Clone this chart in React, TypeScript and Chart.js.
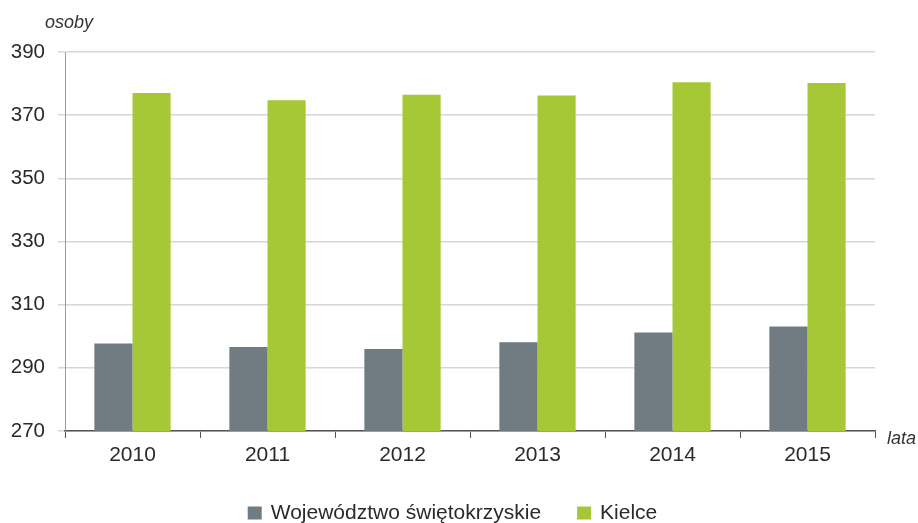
import React, { useEffect, useRef } from "react";
import { Chart, registerables } from "chart.js";

Chart.register(...registerables);

const categories = ["2010", "2011", "2012", "2013", "2014", "2015"];
const wojewodztwo = [297.7, 296.6, 296.0, 298.1, 301.2, 303.1];
const kielce = [377.0, 374.7, 376.5, 376.2, 380.4, 380.2];
const seriesLabels = ["Województwo świętokrzyskie", "Kielce"];
const yTitle = "osoby";
const xTitle = "lata";

const FONT = "'Liberation Sans', Arial, sans-serif";

const titlesAndLegend = {
  id: "titlesAndLegend",
  afterDraw(chart: any) {
    const ctx = chart.ctx;
    ctx.save();
    ctx.fillStyle = "#333333";
    ctx.font = `italic 18px ${FONT}`;
    ctx.textBaseline = "alphabetic";
    ctx.textAlign = "left";
    ctx.fillText(yTitle, 45, 28);
    ctx.fillText(xTitle, chart.chartArea.right + 12, chart.chartArea.bottom + 13);

    // legend
    ctx.font = `21px ${FONT}`;
    const box = 14;
    const gap = 9;
    const itemGap = 36;
    const ds = chart.data.datasets;
    const widths = ds.map((d: any) => box + gap + ctx.measureText(d.label).width);
    const total = widths.reduce((a: number, b: number) => a + b, 0) + itemGap * (ds.length - 1);
    let x = 452.5 - total / 2;
    const baseline = 519;
    ds.forEach((d: any, i: number) => {
      ctx.fillStyle = d.backgroundColor;
      ctx.fillRect(x, 506.5, box, 13);
      ctx.fillStyle = "#2a2a2a";
      ctx.fillText(d.label, x + box + gap, baseline);
      x += widths[i] + itemGap;
    });
    ctx.restore();
  },
};

export default function App() {
  const ref = useRef<HTMLCanvasElement>(null);
  useEffect(() => {
    if (!ref.current) return;
    const chart = new Chart(ref.current, {
      type: "bar",
      data: {
        labels: categories,
        datasets: [
          {
            label: seriesLabels[0],
            data: wojewodztwo,
            backgroundColor: "#707c82",
            categoryPercentage: 0.565,
            barPercentage: 1,
          },
          {
            label: seriesLabels[1],
            data: kielce,
            backgroundColor: "#a6c837",
            categoryPercentage: 0.565,
            barPercentage: 1,
          },
        ],
      },
      options: {
        animation: false,
        responsive: false,
        layout: { padding: { top: 52, right: 43, bottom: 0, left: 0 } },
        plugins: {
          legend: { display: false },
          tooltip: { enabled: false },
        },
        scales: {
          x: {
            afterFit: (s: any) => {
              s.height = 92;
            },
            grid: {
              offset: true,
              drawOnChartArea: false,
              drawTicks: true,
              tickLength: 7,
              color: "#555555",
            },
            border: { display: true, color: "#555555", width: 1.5 },
            ticks: {
              color: "#2a2a2a",
              font: { family: FONT, size: 21 },
              padding: 5,
            },
          },
          y: {
            min: 270,
            max: 390,
            afterFit: (s: any) => {
              s.width = 65;
            },
            ticks: {
              stepSize: 20,
              color: "#2a2a2a",
              font: { family: FONT, size: 20.5 },
              padding: 13,
            },
            grid: {
              color: "#d6d6d6",
              lineWidth: 1.5,
              tickLength: 7,
            },
            border: { display: true, color: "#9a9a9a", width: 1 },
          },
        },
      },
      plugins: [titlesAndLegend],
    });
    return () => chart.destroy();
  }, []);
  return (
    <div style={{ position: "fixed", left: 0, top: 0, width: 918, height: 523, background: "#fff" }}>
      <canvas ref={ref} width={918} height={523} />
    </div>
  );
}
